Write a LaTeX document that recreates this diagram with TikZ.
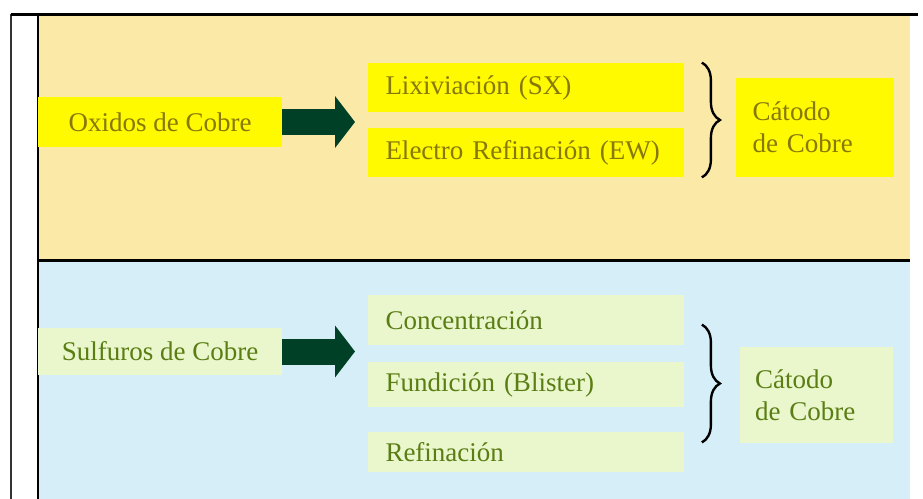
\documentclass[tikz,border=0pt]{standalone}
\usepackage{fontspec}
\setmainfont{Liberation Serif}
\usepackage{tikz}
\usetikzlibrary{arrows.meta}
\usetikzlibrary{decorations.pathreplacing}

\definecolor{oxpanel}{RGB}{251,233,168}
\definecolor{sulpanel}{RGB}{214,238,248}
\definecolor{oxfill}{RGB}{255,250,0}
\definecolor{sulfill}{RGB}{234,247,204}
\definecolor{oxtext}{RGB}{135,120,10}
\definecolor{sultext}{RGB}{90,125,20}
\definecolor{arrowgreen}{RGB}{0,64,38}

\begin{document}
\begin{tikzpicture}[x=0.5pt, y=-0.5pt,
        every node/.style={font=\fontsize{13.5}{16}\selectfont},
        source/.style={minimum width=122pt, minimum height=25pt, inner sep=0pt},
        stage/.style={text width=140pt, minimum height=24.5pt, inner xsep=9pt, inner ysep=0pt, align=left},
        result/.style={text width=62pt, minimum height=49.5pt, inner xsep=8.5pt, align=left},
        oxi/.style={fill=oxfill, text=oxtext},
        sulf/.style={fill=sulfill, text=sultext},
        flow/.style={-{Triangle[length=10pt,width=25.5pt]}, line width=13pt, arrowgreen},
        bracket/.style={decorate, decoration={brace, amplitude=9pt}, line width=1.2pt, black},
    ]
    \useasboundingbox (0,0) rectangle (923,499);
    % panels
    \fill[oxpanel] (38,14) rectangle (910,260);
    \fill[sulpanel] (38,260) rectangle (910,499);
    \draw[line width=1pt, black!80] (11,499) -- (11,14);
    \draw[line width=1.5pt] (11,14) -- (918,14);
    \draw[line width=1.2pt] (38,14) -- (38,499);
    \draw[line width=1.5pt] (38,260) -- (910,260);

    % oxidos
    \node[source, oxi] (oxido) at (160,122) {Oxidos de Cobre};
    \node[stage, oxi] (lixiv) at (525.5,87.5) {Lixiviación (SX)};
    \node[stage, oxi] (electro) at (525.5,152.5) {Electro Refinación (EW)};
    \node[result, oxi] (catodoA) at (814.5,127.5) {Cátodo\\de Cobre};
    \coordinate (tipA) at (355,122);
    \draw[flow] (oxido.east) -- (tipA);
    \draw[bracket] ([xshift=9pt]lixiv.north east) -- ([xshift=9pt]electro.south east);

    % sulfuros
    \node[source, sulf, minimum height=23.5pt] (sulfuro) at (160,351.5) {Sulfuros de Cobre};
    \node[stage, sulf, minimum height=25pt] (concen) at (525.5,320) {Concentración};
    \node[stage, sulf, minimum height=22.5pt] (fundic) at (525.5,384.5) {Fundición (Blister)};
    \node[stage, sulf, minimum height=20pt] (refina) at (525.5,452) {Refinación};
    \node[result, sulf, text width=61.5pt, minimum height=48pt, inner xsep=7.5pt] (catodoB) at (816.5,395) {Cátodo\\de Cobre};
    \coordinate (tipB) at (355,351.5);
    \draw[flow] (sulfuro.east) -- (tipB);
    \draw[bracket] ([xshift=9pt,yshift=-15pt]concen.north east) -- ([xshift=9pt,yshift=15pt]refina.south east);
\end{tikzpicture}
\end{document}
